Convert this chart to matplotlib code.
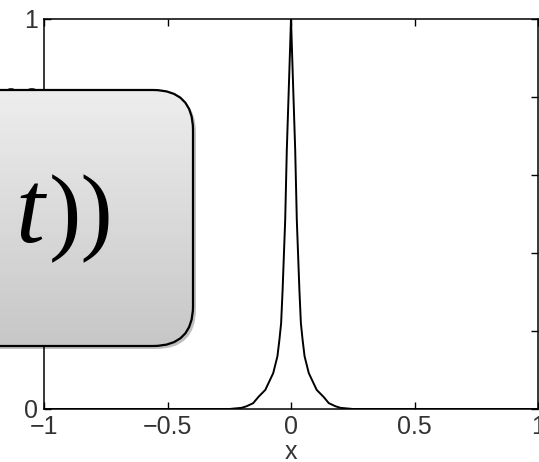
import numpy as np
import matplotlib
matplotlib.use("Agg")
from matplotlib import pyplot as plt
from matplotlib.patches import FancyBboxPatch

# profile u(x) read along the peak, both flanks
xs = [-1.0, -0.25, -0.20, -0.18, -0.153, -0.132, -0.104, -0.072, -0.055, -0.047,
      -0.040, -0.034, -0.0235, -0.017, -0.008, 0.0, 0.008, 0.017, 0.0235, 0.034,
      0.040, 0.047, 0.055, 0.072, 0.104, 0.132, 0.153, 0.18, 0.20, 0.25, 1.0]
ys = [0.0, 0.0, 0.003, 0.007, 0.015, 0.031, 0.049, 0.092, 0.135, 0.177,
      0.22, 0.305, 0.485, 0.664, 0.84, 1.0, 0.84, 0.664, 0.485, 0.305,
      0.22, 0.177, 0.135, 0.092, 0.049, 0.031, 0.015, 0.007, 0.003, 0.0, 0.0]

xticks = [-1, -0.5, 0, 0.5, 1]
xticklabels = ['\u22121', '\u22120.5', '0', '0.5', '1']
yticks = [0, 0.2, 0.4, 0.6, 0.8, 1]
yticklabels = ['0', '0.2', '0.4', '0.6', '0.8', '1']

W, H = 539, 462
fig = plt.figure(figsize=(W / 100, H / 100), dpi=100)
plt.rcParams['font.family'] = ['Liberation Sans', 'DejaVu Sans']

ax = fig.add_axes([44 / W, 1 - 409 / H, (538 - 44) / W, (409 - 19) / H])
ax.plot(xs, ys, color='black', linewidth=1.4)
ax.set_xlim(-1, 1)
ax.set_ylim(0, 1)
ax.set_xticks(xticks)
ax.set_xticklabels(xticklabels)
ax.set_yticks(yticks)
ax.set_yticklabels(yticklabels)
ax.tick_params(direction='in', length=5, width=1, top=True, right=True,
               labelsize=18, labelcolor='#333333', pad=4)
for s in ax.spines.values():
    s.set_linewidth(1.1)
ax.set_xlabel('x', fontsize=18, color='#333333', labelpad=1)

# overlay in pixel coordinates for the callout box
ov = fig.add_axes([0, 0, 1, 1], zorder=5)
ov.set_xlim(0, W)
ov.set_ylim(H, 0)
ov.axis('off')

bx0, by0, bx1, by1 = -60, 90, 193, 346
rad = 40
shadow = FancyBboxPatch((bx0 + 3, by0 + 3), bx1 - bx0, by1 - by0,
                        boxstyle=f"round,pad=0,rounding_size={rad}",
                        facecolor='#000000', edgecolor='none', alpha=0.25)
ov.add_patch(shadow)
box = FancyBboxPatch((bx0, by0), bx1 - bx0, by1 - by0,
                     boxstyle=f"round,pad=0,rounding_size={rad}",
                     facecolor='none', edgecolor='black', linewidth=1.6, zorder=3)
ov.add_patch(box)
grad = np.linspace(0.93, 0.78, 200)[:, None, None] * np.ones((1, 1, 3))
img = ov.imshow(grad, extent=[bx0, bx1, by1, by0], origin='upper',
                aspect='auto', zorder=2)
img.set_clip_path(box)
ov.set_xlim(0, W)
ov.set_ylim(H, 0)

ov.text(15, 242, 't', fontsize=75, fontstyle='italic', family='Liberation Serif',
        ha='left', va='baseline', zorder=4)
ov.text(49, 242, '))', fontsize=70, family='Liberation Serif',
        ha='left', va='baseline', zorder=4)

fig.savefig('out.png', dpi=100)
